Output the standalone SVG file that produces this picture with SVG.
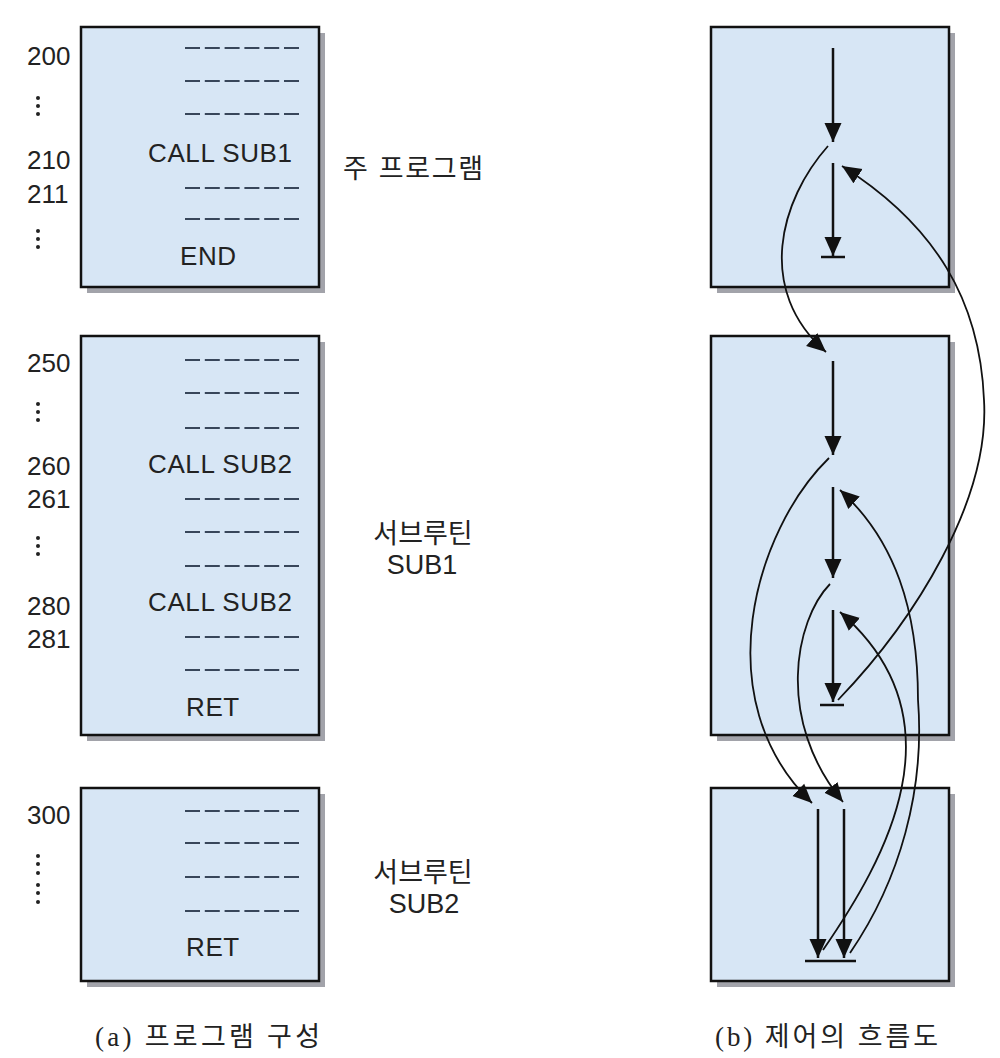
<svg xmlns="http://www.w3.org/2000/svg" width="1000" height="1058" viewBox="0 0 1000 1058">
<defs>
<style>
.box{fill:#d7e6f5;stroke:#111;stroke-width:2.5}
.shadow{fill:#a2a3aa}
.num{font-family:"Liberation Sans",Arial,sans-serif;font-size:26px;fill:#222}
.code{font-family:"Liberation Sans",Arial,sans-serif;font-size:26px;fill:#222;letter-spacing:0.6px}
.kr{font-family:"Liberation Sans","Noto Sans CJK KR",sans-serif;font-size:27px;fill:#222}
.cap{font-family:"Liberation Serif","Noto Sans CJK KR",serif;font-size:27px;fill:#222}
.dash{stroke:#38465a;stroke-width:2;stroke-dasharray:15 4.8;fill:none}
.dot{fill:#222}
.flow{stroke:#111;stroke-width:2.5;fill:none}
.curve{stroke:#111;stroke-width:1.8;fill:none}
.bar{stroke:#111;stroke-width:2.5}
</style>
<marker id="ah" markerUnits="userSpaceOnUse" markerWidth="20" markerHeight="18" refX="19" refY="8.5" orient="auto" viewBox="0 0 20 17">
<path d="M0,0 L19,8.5 L0,17 z" fill="#111"/>
</marker>
</defs>

<!-- (a) program structure -->
<g id="main-program">
<rect class="shadow" x="87" y="33" width="238" height="260"/>
<rect class="box" x="81" y="27" width="238" height="260"/>
<line class="dash" x1="185" y1="48" x2="299" y2="48"/>
<line class="dash" x1="185" y1="81" x2="299" y2="81"/>
<line class="dash" x1="185" y1="114" x2="299" y2="114"/>
<text class="code" x="148" y="162">CALL SUB1</text>
<line class="dash" x1="185" y1="188" x2="299" y2="188"/>
<line class="dash" x1="185" y1="219" x2="299" y2="219"/>
<text class="code" x="180" y="265">END</text>
<text class="num" x="27" y="65">200</text>
<circle class="dot" cx="38" cy="98" r="2"/><circle class="dot" cx="38" cy="106" r="2"/><circle class="dot" cx="38" cy="114" r="2"/>
<text class="num" x="27" y="169">210</text>
<text class="num" x="27" y="203">211</text>
<circle class="dot" cx="38" cy="231" r="2"/><circle class="dot" cx="38" cy="239" r="2"/><circle class="dot" cx="38" cy="247" r="2"/>
<text class="kr" x="343" y="178" textLength="140" lengthAdjust="spacing">주 프로그램</text>
</g>

<g id="sub1-program">
<rect class="shadow" x="87" y="342" width="238" height="399"/>
<rect class="box" x="81" y="336" width="238" height="399"/>
<line class="dash" x1="185" y1="360" x2="299" y2="360"/>
<line class="dash" x1="185" y1="393" x2="299" y2="393"/>
<line class="dash" x1="185" y1="428" x2="299" y2="428"/>
<text class="code" x="148" y="473">CALL SUB2</text>
<line class="dash" x1="185" y1="499" x2="299" y2="499"/>
<line class="dash" x1="185" y1="532" x2="299" y2="532"/>
<line class="dash" x1="185" y1="566" x2="299" y2="566"/>
<text class="code" x="148" y="611">CALL SUB2</text>
<line class="dash" x1="185" y1="637" x2="299" y2="637"/>
<line class="dash" x1="185" y1="670" x2="299" y2="670"/>
<text class="code" x="186" y="716">RET</text>
<text class="num" x="27" y="372">250</text>
<circle class="dot" cx="38" cy="404" r="2"/><circle class="dot" cx="38" cy="412" r="2"/><circle class="dot" cx="38" cy="420" r="2"/>
<text class="num" x="27" y="475">260</text>
<text class="num" x="27" y="508">261</text>
<circle class="dot" cx="38" cy="538" r="2"/><circle class="dot" cx="38" cy="546" r="2"/><circle class="dot" cx="38" cy="554" r="2"/>
<text class="num" x="27" y="615">280</text>
<text class="num" x="27" y="648">281</text>
<text class="kr" x="423" y="543" text-anchor="middle">서브루틴</text>
<text class="kr" x="422" y="574" text-anchor="middle">SUB1</text>
</g>

<g id="sub2-program">
<rect class="shadow" x="87" y="794" width="238" height="193"/>
<rect class="box" x="81" y="788" width="238" height="193"/>
<line class="dash" x1="185" y1="811" x2="299" y2="811"/>
<line class="dash" x1="185" y1="843" x2="299" y2="843"/>
<line class="dash" x1="185" y1="877" x2="299" y2="877"/>
<line class="dash" x1="185" y1="911" x2="299" y2="911"/>
<text class="code" x="186" y="956">RET</text>
<text class="num" x="27" y="824">300</text>
<circle class="dot" cx="38" cy="856" r="2"/><circle class="dot" cx="38" cy="864" r="2"/><circle class="dot" cx="38" cy="873" r="2"/>
<circle class="dot" cx="38" cy="885" r="2"/><circle class="dot" cx="38" cy="893" r="2"/><circle class="dot" cx="38" cy="902" r="2"/>
<text class="kr" x="423" y="882" text-anchor="middle">서브루틴</text>
<text class="kr" x="424" y="913" text-anchor="middle">SUB2</text>
</g>

<text id="caption-a" class="cap" x="95" y="1046" textLength="225" lengthAdjust="spacing">(a) 프로그램 구성</text>

<!-- (b) control flow -->
<g id="flow-main">
<rect class="shadow" x="717" y="33" width="238" height="260"/>
<rect class="box" x="711" y="27" width="238" height="260"/>
<line class="flow" x1="833" y1="48" x2="833" y2="142" marker-end="url(#ah)"/>
<line class="flow" x1="833" y1="163" x2="833" y2="256" marker-end="url(#ah)"/>
<line class="bar" x1="821" y1="257" x2="845" y2="257"/>
</g>

<g id="flow-sub1">
<rect class="shadow" x="717" y="342" width="238" height="399"/>
<rect class="box" x="711" y="336" width="238" height="399"/>
<line class="flow" x1="833" y1="361" x2="833" y2="455" marker-end="url(#ah)"/>
<line class="flow" x1="833" y1="487" x2="833" y2="578" marker-end="url(#ah)"/>
<line class="flow" x1="833" y1="610" x2="833" y2="702" marker-end="url(#ah)"/>
<line class="bar" x1="820" y1="705" x2="844" y2="705"/>
</g>

<g id="flow-sub2">
<rect class="shadow" x="717" y="794" width="238" height="193"/>
<rect class="box" x="711" y="788" width="238" height="193"/>
<line class="flow" x1="818" y1="809" x2="818" y2="958" marker-end="url(#ah)"/>
<line class="flow" x1="844" y1="809" x2="844" y2="958" marker-end="url(#ah)"/>
<line class="bar" x1="805" y1="961" x2="856" y2="961"/>
</g>

<g id="connectors">
<path class="curve" d="M828,146 C780,200 755,290 826,352" marker-end="url(#ah)"/>
<path class="curve" d="M838,700 C915,620 990,500 984,400 C980,300 935,225 842,166" marker-end="url(#ah)"/>
<path class="curve" d="M829,458 C755,530 705,700 812,803" marker-end="url(#ah)"/>
<path class="curve" d="M830,584 C795,620 775,720 843,802" marker-end="url(#ah)"/>
<path class="curve" d="M823,950 C885,860 965,720 840,612" marker-end="url(#ah)"/>
<path class="curve" d="M850,953 C900,880 925,790 918,700 C918,610 895,540 840,490" marker-end="url(#ah)"/>
</g>

<text id="caption-b" class="cap" x="715" y="1046" textLength="223" lengthAdjust="spacing">(b) 제어의 흐름도</text>
</svg>
